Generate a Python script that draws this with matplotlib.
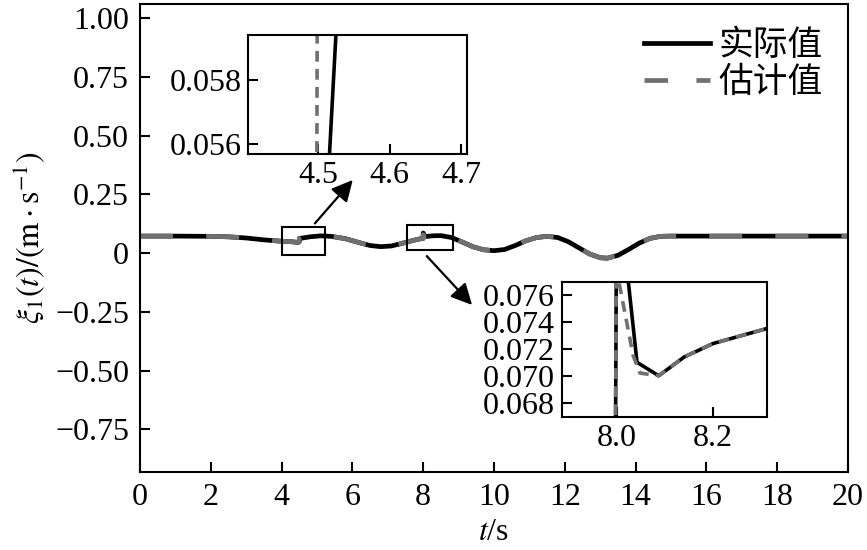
import numpy as np
import matplotlib.pyplot as plt

plt.rcParams['font.family'] = ['Liberation Serif', 'DejaVu Serif']
plt.rcParams['mathtext.fontset'] = 'stix'

# shared part of both curves (t in s, value in m/s)
t_base = [0, 1, 2, 2.5, 3.0, 3.5, 4.0, 4.3,
          4.8, 5.1, 5.4, 5.8, 6.2, 6.5, 6.8, 7.1, 7.4, 7.7, 7.9,
          8.5, 8.8, 9.1, 9.4, 9.7, 10.0, 10.3, 10.6, 10.9, 11.2, 11.5, 11.8,
          12.1, 12.4, 12.7, 13.0, 13.2, 13.5, 13.8, 14.1, 14.4, 14.7, 15.0, 20.0]
y_base = [0.072, 0.072, 0.071, 0.069, 0.064, 0.056, 0.050, 0.048,
          0.069, 0.073, 0.071, 0.061, 0.044, 0.032, 0.027, 0.030, 0.041, 0.053, 0.060,
          0.074, 0.066, 0.047, 0.027, 0.014, 0.010, 0.015, 0.032, 0.052, 0.066, 0.071, 0.066,
          0.048, 0.022, -0.004, -0.020, -0.022, -0.010, 0.015, 0.042, 0.062, 0.071, 0.072, 0.072]

# detail around t = 4.5
t_act_a = [4.45, 4.502, 4.532]
y_act_a = [0.045, 0.050, 0.0624]
t_est_a = [4.45, 4.497, 4.499, 4.53]
y_est_a = [0.045, 0.046, 0.064, 0.063]

# detail around t = 8.0
t_act_b = [7.997, 8.000, 8.042, 8.087, 8.14, 8.2, 8.26, 8.31]
y_act_b = [0.062, 0.085, 0.0710, 0.0700, 0.0714, 0.0724, 0.0730, 0.0735]
t_est_b = [7.997, 7.999, 8.034, 8.048, 8.087, 8.14, 8.2, 8.26, 8.31]
y_est_b = [0.062, 0.078, 0.0715, 0.0702, 0.0700, 0.0714, 0.0724, 0.0730, 0.0735]


def merge(*parts):
    t = np.concatenate([np.asarray(p[0], float) for p in parts])
    y = np.concatenate([np.asarray(p[1], float) for p in parts])
    idx = np.argsort(t, kind='stable')
    return t[idx], y[idx]


t_act, y_act = merge((t_base, y_base), (t_act_a, y_act_a), (t_act_b, y_act_b))
t_est, y_est = merge((t_base, y_base), (t_est_a, y_est_a), (t_est_b, y_est_b))

main_yticks = [-0.75, -0.5, -0.25, 0, 0.25, 0.5, 0.75, 1.0]
main_ylabels = ['\u22120.75', '\u22120.50', '\u22120.25', '0', '0.25', '0.50', '0.75', '1.00']

est_color = '#707070'
fs = 23

fig = plt.figure(figsize=(8.67, 5.5), dpi=100)
ax = fig.add_axes([0.1615, 0.1418, 0.8166, 0.851])

ax.plot(t_act, y_act, color='black', lw=3.4, label='实际值')
ax.plot(t_est, y_est, color=est_color, lw=3.4, dashes=(7, 7), label='估计值')

ax.set_xlim(0, 20)
ax.set_ylim(-0.932, 1.06)
ax.set_xticks(range(0, 21, 2))
ax.set_yticks(main_yticks)
ax.set_yticklabels(main_ylabels)
ax.tick_params(direction='in', labelsize=fs, length=7, width=1.5, pad=8)
for s in ax.spines.values():
    s.set_linewidth(1.5)
ax.set_xlabel('$t$/s', fontsize=fs, labelpad=4)
ax.set_ylabel(r'$\xi_1(t)/(\mathrm{m}\cdot\mathrm{s}^{-1})$', fontsize=fs, labelpad=6)

leg = ax.legend(loc='upper right', frameon=False, handlelength=1.9,
                prop={'family': ['Noto Sans CJK SC'], 'size': 25},
                borderaxespad=0.3, labelspacing=0.05, handletextpad=0.25,
                bbox_to_anchor=(0.999, 1.0))
# legend handle shows "- -" like the original
leg.get_lines()[1].set_dashes((5, 6))

# zoom boxes on main plot
ax.add_patch(plt.Rectangle((4.02, -0.0085), 1.21, 0.1175, fill=False, lw=1.5, ec='black', zorder=5))
ax.add_patch(plt.Rectangle((7.54, 0.013), 1.30, 0.106, fill=False, lw=1.5, ec='black', zorder=5))

arrow = dict(arrowstyle='-|>', color='black', lw=1.6, mutation_scale=32, shrinkA=0, shrinkB=0)
ax.annotate('', xy=(6.01, 0.311), xytext=(4.94, 0.126), arrowprops=arrow)
ax.annotate('', xy=(9.38, -0.221), xytext=(8.10, -0.013), arrowprops=arrow)

# inset 1
ax1 = fig.add_axes([0.2864, 0.72, 0.2519, 0.2164])
ax1.plot(t_act, y_act, color='black', lw=2.6)
ax1.plot(t_est, y_est, color=est_color, lw=2.6, dashes=(3, 2))
ax1.set_xlim(4.402, 4.708)
ax1.set_ylim(0.05568, 0.0594)
ax1.set_xticks([4.5, 4.6, 4.7])
ax1.set_xticklabels(['4.5', '4.6', '4.7'])
ax1.set_yticks([0.056, 0.058])
ax1.set_yticklabels(['0.056', '0.058'])

# inset 2
ax2 = fig.add_axes([0.6479, 0.2424, 0.2371, 0.2444])
ax2.plot(t_act, y_act, color='black', lw=2.6)
ax2.plot(t_est, y_est, color=est_color, lw=2.6, dashes=(3, 2))
ax2.set_xlim(7.886, 8.312)
ax2.set_ylim(0.06696, 0.07695)
ax2.set_xticks([8.0, 8.2])
ax2.set_xticklabels(['8.0', '8.2'])
ax2.set_yticks([0.068, 0.070, 0.072, 0.074, 0.076])
ax2.set_yticklabels(['0.068', '0.070', '0.072', '0.074', '0.076'])

for a in (ax1, ax2):
    a.tick_params(direction='in', labelsize=fs, length=7, width=1.5, pad=5)
    for s in a.spines.values():
        s.set_linewidth(1.5)

fig.savefig('out.png', dpi=100)
